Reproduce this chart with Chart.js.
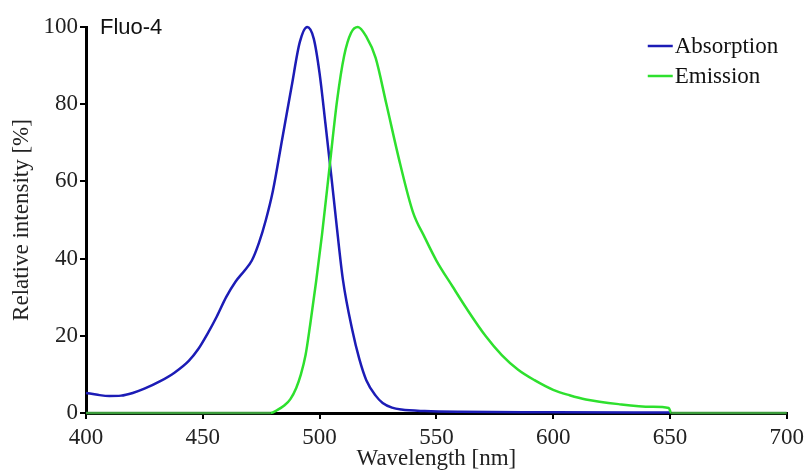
<!DOCTYPE html>
<html>
<head>
<meta charset="utf-8">
<style>
  body { margin: 0; background: #fff; }
  canvas { display: block; }
</style>
<script src="https://cdn.jsdelivr.net/npm/chart.js@4/dist/chart.umd.min.js"></script>
</head>
<body>
<canvas id="chart" width="809" height="470"></canvas>
<script>
// Fluo-4 spectra
const absWl  = [400, 405, 410, 415, 420, 425, 432, 438, 444, 448, 452, 456, 460, 464, 468, 471, 474, 477, 480, 484, 488, 491.5, 494.7, 497.5, 500, 502.5, 505, 507.5, 510, 514, 517, 520, 524, 527, 531, 535, 545, 560, 600, 650];
const absVal = [5.2, 4.7, 4.4, 4.5, 5.2, 6.3, 8.3, 10.5, 13.5, 16.5, 20.5, 25, 30, 34, 37, 39.5, 44, 50, 57.5, 71, 84.5, 96, 100, 97, 88, 75, 61.5, 47.5, 34.5, 21.5, 14, 8.5, 4.5, 2.6, 1.4, 0.9, 0.5, 0.3, 0.2, 0.1];

const emWl  = [400, 479, 482, 485, 487.5, 490, 492, 494, 496, 498.5, 501, 504.5, 507.5, 510.5, 513.5, 516.4, 520, 524, 528.5, 534.5, 540, 545, 550, 557, 563, 571, 578, 585, 592, 600, 607, 614, 628, 642, 649.5, 650.5, 700];
const emVal = [0, 0, 0.8, 2, 3.6, 6.5, 10, 15, 23, 34, 46, 65, 81, 92.5, 98.5, 100, 97.5, 92, 80.3, 64.5, 52, 45.5, 39.5, 32.7, 27, 20, 15, 11.2, 8.5, 6, 4.6, 3.5, 2.3, 1.6, 1.3, 0, 0];

const xTicks = [400, 450, 500, 550, 600, 650, 700];
const yTicks = [0, 20, 40, 60, 80, 100];

const seriesNames = ['Absorption', 'Emission'];
const seriesColors = ['#1c1cb6', '#2ee02e'];
const baselineGreen = '#3c9c3c';

const serif = '"Liberation Serif", "Times New Roman", serif';

function toPoints(xs, ys) {
  return xs.map((x, i) => ({ x: x, y: ys[i] }));
}

// title + legend drawn in the top corners of the plot
const labelsPlugin = {
  id: 'labels',
  afterDraw(chart) {
    const ctx = chart.ctx;
    const area = chart.chartArea;
    ctx.save();
    ctx.fillStyle = '#111';
    ctx.font = '22px "Liberation Sans", Arial, sans-serif';
    ctx.textBaseline = 'alphabetic';
    ctx.textAlign = 'left';
    ctx.fillText('Fluo-4', area.left + 14, area.top + 7);

    ctx.font = '23px ' + serif;
    ctx.textBaseline = 'middle';
    seriesNames.forEach((name, i) => {
      const y = area.top + 19 + i * 30;
      ctx.strokeStyle = seriesColors[i];
      ctx.lineWidth = 2.5;
      ctx.beginPath();
      ctx.moveTo(area.right - 139, y);
      ctx.lineTo(area.right - 114, y);
      ctx.stroke();
      ctx.fillText(name, area.right - 112, y + 1);
    });
    ctx.restore();
  }
};

new Chart(document.getElementById('chart'), {
  type: 'line',
  data: {
    datasets: [
      {
        label: seriesNames[1],
        data: toPoints(emWl, emVal),
        borderColor: seriesColors[1],
        borderWidth: 2.5,
        pointRadius: 0,
        cubicInterpolationMode: 'monotone',
        clip: 6,
        segment: {
          borderColor: c => (c.p0.parsed.y === 0 && c.p1.parsed.y === 0) ? baselineGreen : undefined
        }
      },
      {
        label: seriesNames[0],
        data: toPoints(absWl, absVal),
        borderColor: seriesColors[0],
        borderWidth: 2.5,
        pointRadius: 0,
        cubicInterpolationMode: 'monotone',
        clip: 6
      }
    ]
  },
  options: {
    responsive: false,
    animation: false,
    layout: { padding: { top: 27, right: 21, left: 0, bottom: 0 } },
    plugins: {
      legend: { display: false },
      tooltip: { enabled: false }
    },
    scales: {
      x: {
        type: 'linear',
        min: 400,
        max: 700,
        afterFit: s => { s.height = 57; },
        afterBuildTicks: s => { s.ticks = xTicks.map(v => ({ value: v })); },
        grid: { drawOnChartArea: false, drawTicks: true, tickLength: 6, color: '#000', lineWidth: 2 },
        border: { color: '#000', width: 3 },
        ticks: { color: '#222', font: { family: serif, size: 23 }, padding: 5, maxRotation: 0 },
        title: {
          display: true,
          text: 'Wavelength [nm]',
          color: '#222',
          font: { family: serif, size: 23, lineHeight: 1 },
          padding: { top: 0, bottom: 0 }
        }
      },
      y: {
        min: 0,
        max: 100,
        afterFit: s => { s.width = 86; },
        afterBuildTicks: s => { s.ticks = yTicks.map(v => ({ value: v })); },
        grid: { drawOnChartArea: false, drawTicks: true, tickLength: 6, color: '#000', lineWidth: 2 },
        border: { color: '#000', width: 3 },
        ticks: { color: '#222', font: { family: serif, size: 23 }, padding: 2 },
        title: {
          display: true,
          text: 'Relative intensity [%]',
          color: '#222',
          font: { family: serif, size: 23 },
          padding: { top: 8, bottom: 0 }
        }
      }
    }
  },
  plugins: [labelsPlugin]
});
</script>
</body>
</html>
